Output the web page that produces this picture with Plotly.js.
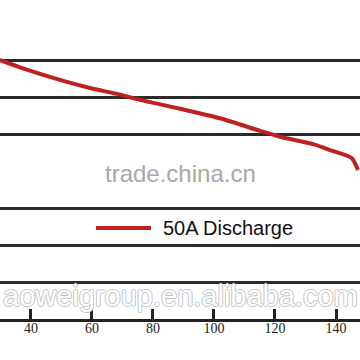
<!DOCTYPE html>
<html><head><meta charset="utf-8">
<script src="https://cdn.plot.ly/plotly-3.0.1.min.js"></script>
<style>html,body{margin:0;padding:0;background:#fff}#chart{width:360px;height:360px}</style>
</head><body><div id="chart"></div>
<script>
const minutes = [29.8, 36.4, 49.5, 59.3, 69.2, 75.7, 88.9, 102.0, 115.1, 121.6, 132.5, 138.0, 145.2, 147.2];
const voltage = [1.951, 1.941, 1.924, 1.913, 1.904, 1.897, 1.885, 1.872, 1.855, 1.847, 1.837, 1.829, 1.818, 1.802];
const seriesName = "50A Discharge";
const xTicks = [40, 60, 80, 100, 120, 140];
const yGrid = [1.65, 1.70, 1.75, 1.85, 1.90, 1.95];
const watermarkTop = "trade.china.cn";
const watermarkBottom = "aoweigroup.en.alibaba.com";

const lineColor = "#c0201e";

const trace = {
  x: minutes, y: voltage, type: "scatter", mode: "lines",
  name: seriesName, showlegend: false,
  line: {color: lineColor, width: 4, shape: "spline", smoothing: 0.6}
};

const layout = {
  width: 360, height: 360,
  margin: {l: 0, r: 0, t: 0, b: 41, pad: 0},
  paper_bgcolor: "#fff", plot_bgcolor: "#fff",
  showlegend: false,
  xaxis: {
    range: [29.84, 147.87], tickvals: xTicks, ticktext: xTicks.map(String),
    showgrid: false, zeroline: false,
    showline: true, linewidth: 3, linecolor: "#222",
    ticks: "inside", ticklen: 10, tickwidth: 3, tickcolor: "#222",
    ticklabelstandoff: -6,
    tickfont: {family: "Liberation Serif", size: 14, color: "#222"}
  },
  yaxis: {
    range: [1.60, 2.0323], tickvals: yGrid, showticklabels: false,
    showgrid: true, gridcolor: "#2b2b2b", gridwidth: 3,
    zeroline: false, showline: false, ticks: ""
  },
  shapes: [{
    type: "line", xref: "paper", yref: "paper",
    x0: 96/360, x1: 151/360, y0: 91/319, y1: 91/319,
    line: {color: lineColor, width: 4}
  }],
  annotations: [
    {text: seriesName, xref: "paper", yref: "paper", x: 161/360, y: 91/319,
     xanchor: "left", yanchor: "middle", showarrow: false,
     font: {family: "Liberation Sans", size: 20, color: "#111"}},
    {text: watermarkTop, xref: "paper", yref: "paper", x: 0.5, y: (319-173)/319,
     xanchor: "center", yanchor: "middle", showarrow: false,
     font: {family: "Liberation Sans", size: 24, color: "#a8a8a8"}},
    {text: watermarkBottom, xref: "paper", yref: "paper", x: 0.5, y: (319-296)/319,
     xanchor: "center", yanchor: "middle", showarrow: false,
     font: {family: "Liberation Sans", size: 29, color: "#ffffff",
            shadow: "1px 0 0 #c4c4c4, -1px 0 0 #c4c4c4, 0 1px 0 #c4c4c4, 0 -1px 0 #c4c4c4"}}
  ]
};

Plotly.newPlot("chart", [trace], layout, {displayModeBar: false, staticPlot: true});
</script>
</body></html>
